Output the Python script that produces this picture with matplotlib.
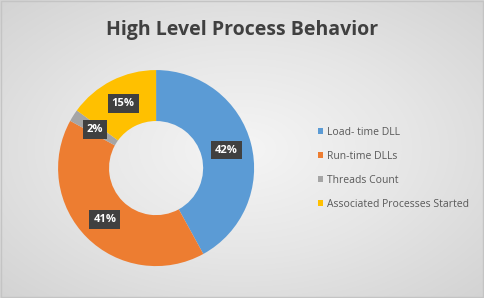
import matplotlib.pyplot as plt
import numpy as np
from matplotlib.colors import LinearSegmentedColormap

categories = ["Load- time DLL", "Run-time DLLs", "Threads Count",
              "Associated Processes Started"]
shares = [42, 41, 2, 15]
colors = ["#5B9BD5", "#ED7D31", "#A5A5A5", "#FFC000"]

fig = plt.figure(figsize=(4.84, 2.98), dpi=100)

# radial grey gradient background
bg = fig.add_axes([0, 0, 1, 1], zorder=-10)
yy, xx = np.mgrid[-1:1:300j, -1:1:480j]
r = np.sqrt(xx ** 2 + yy ** 2) / np.sqrt(2)
cmap = LinearSegmentedColormap.from_list("bg", ["#f5f5f5", "#e6e6e6", "#d3d3d3"])
bg.imshow(r, cmap=cmap, vmin=0, vmax=1, extent=[0, 1, 0, 1],
          aspect="auto", interpolation="bilinear")
bg.set_axis_off()
fig.patches.append(plt.Rectangle((0.002, 0.003), 0.996, 0.994, transform=fig.transFigure,
                                 fill=False, ec="#c4c4c4", lw=1))

ax = fig.add_axes([0.12, 0.107, 0.405, 0.658])
wedges, _ = ax.pie(shares, colors=colors, startangle=90, counterclock=False,
                   radius=1.0, wedgeprops=dict(width=0.52, edgecolor="none"))
ax.set_xlim(-1, 1)
ax.set_ylim(-1, 1)
ax.set_aspect("equal")

for w, v in zip(wedges, shares):
    ang = np.deg2rad((w.theta1 + w.theta2) / 2)
    rr = 0.74
    ax.text(rr * np.cos(ang), rr * np.sin(ang), f"{v}%", ha="center", va="center",
            color="white", fontsize=8, fontweight="bold", family="Open Sans",
            bbox=dict(boxstyle="square,pad=0.35", fc="#404040", ec="none"))

fig.text(0.5, 0.9, "High Level Process Behavior", ha="center", va="center",
         fontsize=14, fontweight="bold", color="#404040", family="Open Sans")

handles = [plt.Rectangle((0, 0), 1, 1, fc=c) for c in colors]
fig.legend(handles, categories, loc="center left", bbox_to_anchor=(0.637, 0.435),
           frameon=False, labelcolor="#595959", handlelength=0.55,
           handleheight=0.55, handletextpad=0.35, labelspacing=1.25,
           prop=dict(family="Open Sans", size=7.5))

fig.savefig("out.png", dpi=100)
